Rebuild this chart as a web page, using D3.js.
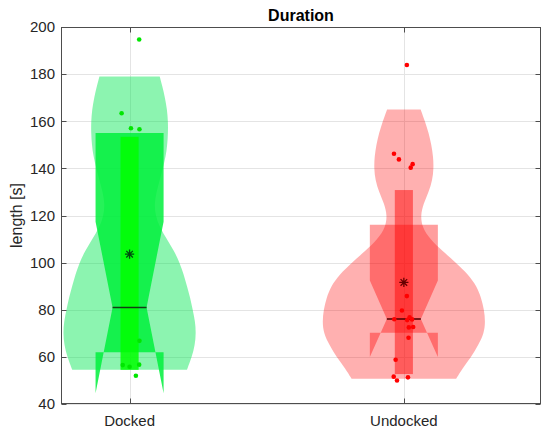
<!DOCTYPE html>
<html>
<head>
<meta charset="utf-8">
<script src="https://cdn.jsdelivr.net/npm/d3@7/dist/d3.min.js"></script>
<style>
    body { margin: 0; background: #fff; }
    text { font-family: "Liberation Sans", Arial, sans-serif; fill: #262626; }
</style>
</head>
<body>
<div id="chart"></div>
<script>
// data
const groups = ["Docked", "Undocked"];
const yTicks = [40, 60, 80, 100, 120, 140, 160, 180, 200];

// violin outlines: value and relative density (1 = widest violin)
const dockedViolinY = [54.5, 60, 65, 70, 75, 80, 85, 90, 95, 100, 105, 110, 115, 120, 125, 130, 135, 140, 145, 150, 155, 160, 165, 170, 175, 179];
const dockedViolinD = [0.704, 0.765, 0.802, 0.815, 0.805, 0.775, 0.745, 0.705, 0.665, 0.615, 0.545, 0.457, 0.370, 0.318, 0.305, 0.330,
    0.370, 0.407, 0.444, 0.463, 0.472, 0.472, 0.460, 0.435, 0.401, 0.370];
const undockedViolinY = [50.7, 55, 60, 65, 70, 75, 80, 85, 90, 95, 100, 105, 110, 115, 120, 125, 130, 135, 140, 145, 150, 155, 160, 165];
const undockedViolinD = [0.642, 0.716, 0.827, 0.914, 0.985, 1.0, 0.985, 0.950, 0.895, 0.790, 0.640, 0.470, 0.320, 0.225, 0.205, 0.240,
    0.305, 0.350, 0.366, 0.360, 0.338, 0.305, 0.259, 0.206];

// box statistics per group
const q1 = [62, 70.2];
const q3 = [155, 116.1];
const medians = [81, 76.1];
const notchLo = [44.6, 60.0];
const notchHi = [117.4, 92.4];
const means = [103.6, 91.6];
const innerLo = [54.5, 52.7];
const innerHi = [153.4, 130.8];

// raw points: value and horizontal jitter (x units)
const dockedValues = [194.7, 163.4, 157.0, 156.6, 66.8, 56.5, 55.8, 56.7, 52.0];
const dockedJitter = [0.035, -0.029, 0.005, 0.036, 0.036, -0.025, 0.0, 0.035, 0.023];
const undockedValues = [183.9, 146.2, 143.8, 141.8, 140.3, 85.8, 79.7, 76.0, 76.8, 75.6, 75.9, 72.5, 72.7, 68.1, 58.8, 51.6, 50.0, 51.3];
const undockedJitter = [0.011, -0.036, -0.018, 0.032, 0.025, 0.011, -0.007, -0.035, 0.021, 0.012, 0.030, 0.018, 0.034, 0.017, -0.030, -0.037, -0.025, 0.015];

const styles = [
    { violin: "#00e650", violinOp: 0.45, box: "#00f03c", boxOp: 0.85, inner: "#00ff00", innerOp: 0.85,
      point: "#00e600", mean: "#004d10", median: "#143c14" },
    { violin: "#ff0000", violinOp: 0.31, box: "#ff0000", boxOp: 0.38, inner: "#ff0000", innerOp: 0.48,
      point: "#ff0000", mean: "#660000", median: "#4a0000" }
];

class ViolinChart {

    constructor() {
        this._width = 550;
        this._height = 436;
        this._initSVG()
            ._initScales()
            ._drawGrid()
            ._render()
            ._drawAxes();
    }

    _initSVG() {
        this._svg = d3.select("#chart").append("svg")
            .attr("width", this._width)
            .attr("height", this._height)
            .style("display", "block");
        return this;
    }

    _initScales() {
        this._x = d3.scaleLinear().domain([0.75, 2.5]).range([61, 541]);
        this._y = d3.scaleLinear().domain([40, 200]).range([404, 27]);
        // half width of a violin at density 1, in x units
        this._violinW = 0.297;
        this._boxW = 0.124;
        this._notchW = 0.062;
        this._innerW = 0.033;
        return this;
    }

    _drawGrid() {
        const g = this._svg.append("g").attr("stroke", "#e4e4e4").attr("stroke-width", 1);
        g.selectAll("line.h").data(yTicks).enter().append("line")
            .attr("x1", this._x(0.75)).attr("x2", this._x(2.5))
            .attr("y1", d => Math.round(this._y(d)) + 0.5)
            .attr("y2", d => Math.round(this._y(d)) + 0.5);
        g.selectAll("line.v").data([1, 2]).enter().append("line")
            .attr("x1", d => Math.round(this._x(d)) + 0.5)
            .attr("x2", d => Math.round(this._x(d)) + 0.5)
            .attr("y1", this._y(40)).attr("y2", this._y(200));
        return this;
    }

    _render() {
        const violins = [
            dockedViolinY.map((v, i) => ({ v: v, d: dockedViolinD[i] })),
            undockedViolinY.map((v, i) => ({ v: v, d: undockedViolinD[i] }))
        ];
        const points = [
            dockedValues.map((v, i) => ({ v: v, j: dockedJitter[i] })),
            undockedValues.map((v, i) => ({ v: v, j: undockedJitter[i] }))
        ];
        groups.forEach((name, i) => {
            const c = i + 1;
            const st = styles[i];
            const g = this._svg.append("g").attr("class", "group-" + name);

            // violin
            const area = d3.area()
                .y(d => this._y(d.v))
                .x0(d => this._x(c - d.d * this._violinW))
                .x1(d => this._x(c + d.d * this._violinW))
                .curve(d3.curveBasis);
            g.append("path")
                .attr("d", area(violins[i]))
                .attr("fill", st.violin)
                .attr("fill-opacity", st.violinOp);

            // notched box
            const L = c - this._boxW, R = c + this._boxW;
            const Ln = c - this._notchW, Rn = c + this._notchW;
            const box = [
                [L, q3[i]], [R, q3[i]], [R, notchHi[i]], [Rn, medians[i]], [R, notchLo[i]],
                [R, q1[i]], [L, q1[i]], [L, notchLo[i]], [Ln, medians[i]], [L, notchHi[i]]
            ];
            g.append("path")
                .attr("d", d3.line().x(d => this._x(d[0])).y(d => this._y(d[1]))(box) + "Z")
                .attr("fill", st.box)
                .attr("fill-opacity", st.boxOp);

            // inner bar
            g.append("rect")
                .attr("x", this._x(c - this._innerW))
                .attr("width", this._x(c + this._innerW) - this._x(c - this._innerW))
                .attr("y", this._y(innerHi[i]))
                .attr("height", this._y(innerLo[i]) - this._y(innerHi[i]))
                .attr("fill", st.inner)
                .attr("fill-opacity", st.innerOp);

            // median
            g.append("line")
                .attr("x1", this._x(Ln)).attr("x2", this._x(Rn))
                .attr("y1", this._y(medians[i])).attr("y2", this._y(medians[i]))
                .attr("stroke", st.median)
                .attr("stroke-width", 1.5);

            // points
            g.selectAll("circle").data(points[i]).enter().append("circle")
                .attr("cx", d => this._x(c + d.j))
                .attr("cy", d => this._y(d.v))
                .attr("r", 2.3)
                .attr("fill", st.point);

            // mean asterisk
            const mx = this._x(c), my = this._y(means[i]), s = 4.6, t = 3.3;
            g.append("path")
                .attr("d", `M${mx - s},${my}L${mx + s},${my}M${mx},${my - s}L${mx},${my + s}` +
                    `M${mx - t},${my - t}L${mx + t},${my + t}M${mx - t},${my + t}L${mx + t},${my - t}`)
                .attr("stroke", st.mean)
                .attr("stroke-width", 1.3)
                .attr("fill", "none");
        });
        return this;
    }

    _drawAxes() {
        const x0 = 61.5, x1 = 540.5, y0 = 27.5, y1 = 403.5;
        const axisColor = "#4d4d4d";
        const g = this._svg.append("g");
        g.append("rect")
            .attr("x", x0).attr("y", y0)
            .attr("width", x1 - x0).attr("height", y1 - y0)
            .attr("fill", "none").attr("stroke", axisColor).attr("stroke-width", 1);

        // y ticks inward on both sides
        g.selectAll("line.yl").data(yTicks).enter().append("line")
            .attr("x1", x0).attr("x2", x0 + 5)
            .attr("y1", d => Math.round(this._y(d)) + 0.5).attr("y2", d => Math.round(this._y(d)) + 0.5)
            .attr("stroke", axisColor);
        g.selectAll("line.yr").data(yTicks).enter().append("line")
            .attr("x1", x1).attr("x2", x1 - 5)
            .attr("y1", d => Math.round(this._y(d)) + 0.5).attr("y2", d => Math.round(this._y(d)) + 0.5)
            .attr("stroke", axisColor);
        g.selectAll("text.yt").data(yTicks).enter().append("text")
            .attr("x", 55).attr("y", d => this._y(d))
            .attr("dy", "0.35em")
            .attr("text-anchor", "end")
            .attr("font-size", 15)
            .text(d => d);

        // x ticks top and bottom
        [1, 2].forEach(d => {
            const xx = Math.round(this._x(d)) + 0.5;
            g.append("line").attr("x1", xx).attr("x2", xx).attr("y1", y1).attr("y2", y1 - 5).attr("stroke", axisColor);
            g.append("line").attr("x1", xx).attr("x2", xx).attr("y1", y0).attr("y2", y0 + 5).attr("stroke", axisColor);
        });
        g.selectAll("text.xt").data(groups).enter().append("text")
            .attr("x", (d, i) => this._x(i + 1))
            .attr("y", 426)
            .attr("text-anchor", "middle")
            .attr("font-size", 15)
            .text(d => d);

        // labels
        this._svg.append("text")
            .attr("transform", "translate(22,215.5) rotate(-90)")
            .attr("text-anchor", "middle")
            .attr("font-size", 16)
            .text("length [s]");
        this._svg.append("text")
            .attr("x", 301).attr("y", 21)
            .attr("text-anchor", "middle")
            .attr("font-size", 16)
            .attr("font-weight", "bold")
            .style("fill", "#000")
            .text("Duration");
        return this;
    }
}

window.chart = new ViolinChart();
</script>
</body>
</html>
